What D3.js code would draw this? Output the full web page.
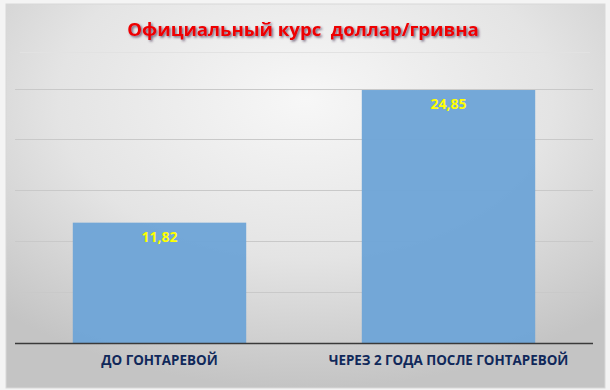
<!DOCTYPE html>
<html><head><meta charset="utf-8">
<script src="https://cdn.jsdelivr.net/npm/d3@7"></script>
<style>html,body{margin:0;padding:0;background:#f4f4f4;}svg{display:block;}</style>
</head><body>
<svg id="c" width="610" height="390"></svg>
<script>
const title = "Официальный курс  доллар/гривна";
const categories = ["ДО ГОНТАРЕВОЙ", "ЧЕРЕЗ 2 ГОДА ПОСЛЕ ГОНТАРЕВОЙ"];
const values = [11.82, 24.85];
const valueLabels = ["11,82", "24,85"];
const yTicks = [0, 5, 10, 15, 20, 25];

const svg = d3.select("#c");
const defs = svg.append("defs");
const g1 = defs.append("radialGradient").attr("id","bg")
  .attr("cx","0.5").attr("cy","0.25").attr("r","0.75");
g1.append("stop").attr("offset","0").attr("stop-color","#f7f7f7");
g1.append("stop").attr("offset","0.55").attr("stop-color","#e4e4e4");
g1.append("stop").attr("offset","1").attr("stop-color","#c4c4c4");
const f = defs.append("filter").attr("id","sh").attr("x","-5%").attr("y","-20%").attr("width","110%").attr("height","150%");
f.append("feDropShadow").attr("dx",1.5).attr("dy",1.5).attr("stdDeviation",0.8).attr("flood-color","#3a2a4a").attr("flood-opacity",0.7);

svg.append("rect").attr("x",6).attr("y",4).attr("width",599).attr("height",384)
  .attr("fill","url(#bg)").attr("stroke","#d8d8d8");

const m = {l:15, r:593, t:88.5, b:343};
const x = d3.scaleBand().domain(categories).range([m.l, m.r]).paddingInner(0.4).paddingOuter(0.2);
const y = d3.scaleLinear().domain([0, 25]).range([m.b, m.t]);

svg.append("g").selectAll("line").data(yTicks.slice(1)).join("line")
  .attr("x1", m.l).attr("x2", m.r)
  .attr("y1", d => Math.round(y(d))+0.5).attr("y2", d => Math.round(y(d))+0.5)
  .attr("stroke","#c9c9c9").attr("stroke-width",1);

svg.append("g").selectAll("rect").data(values).join("rect")
  .attr("x",(d,i)=>x(categories[i])).attr("width",x.bandwidth())
  .attr("y",d=>y(d)).attr("height",d=>y(0)-y(d))
  .attr("fill","#6fa5d7").attr("fill-opacity",0.97);

svg.append("line").attr("x1",m.l).attr("x2",m.r).attr("y1",y(0)+0.5).attr("y2",y(0)+0.5)
  .attr("stroke","#3a3a3a").attr("stroke-width",1.5);

svg.append("g").selectAll("text").data(values).join("text")
  .attr("x",(d,i)=>x(categories[i])+x.bandwidth()/2).attr("y",d=>y(d)+19)
  .attr("text-anchor","middle").attr("font-family","Open Sans, sans-serif")
  .attr("font-weight","bold").attr("font-size",14).attr("fill","#ffff00")
  .text((d,i)=>valueLabels[i]);

const xAxis = d3.axisBottom(x).tickSize(0).tickPadding(12);
const ax = svg.append("g").attr("transform",`translate(0,${y(0)})`).call(xAxis);
ax.select(".domain").remove();
ax.selectAll("text").attr("font-family","Open Sans, sans-serif").attr("font-weight","bold")
  .attr("font-size",13.4).attr("fill","#10285a");

svg.append("text").attr("x",303).attr("y",36).attr("text-anchor","middle")
  .style("white-space","pre")
  .attr("font-family","Open Sans, sans-serif").attr("font-weight","bold").attr("font-size",18.6)
  .attr("fill","#ee0000").attr("filter","url(#sh)").text(title);
svg.append("line").attr("x1",20).attr("x2",590).attr("y1",52.5).attr("y2",52.5).attr("stroke","#e2e2e2");
</script>
</body></html>
